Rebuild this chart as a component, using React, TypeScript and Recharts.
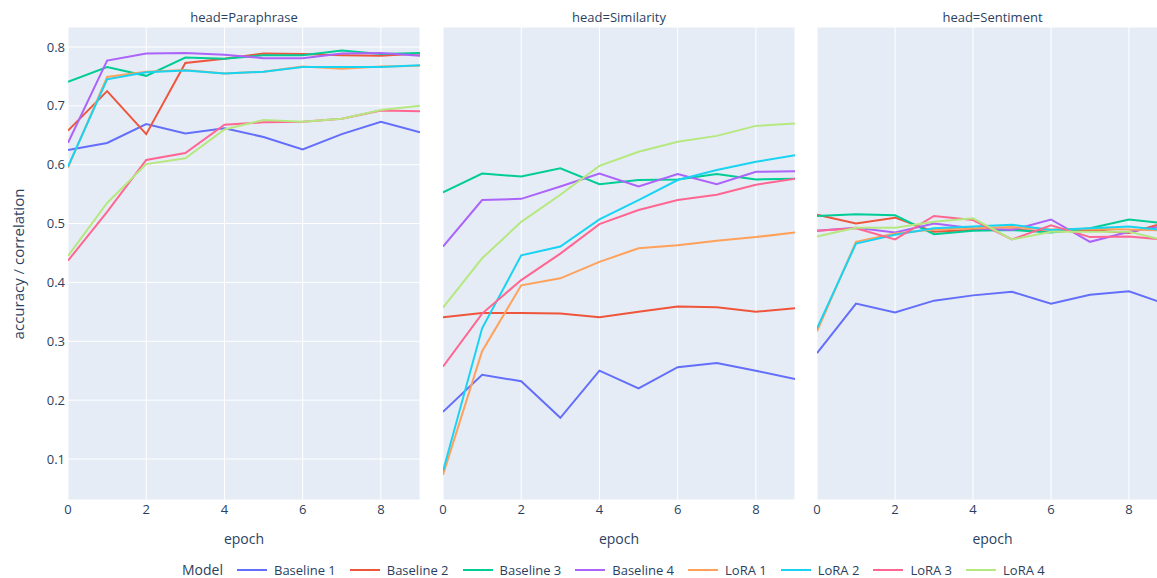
import React from "react";
import { LineChart, Line, XAxis, YAxis, CartesianGrid } from "recharts";

const epochs = [0, 1, 2, 3, 4, 5, 6, 7, 8, 9];
const models = ["Baseline 1", "Baseline 2", "Baseline 3", "Baseline 4", "LoRA 1", "LoRA 2", "LoRA 3", "LoRA 4"];
const colors = ["#636efa", "#EF553B", "#00cc96", "#ab63fa", "#FFA15A", "#19d3f3", "#FF6692", "#B6E880"];
const xTicks = [0, 2, 4, 6, 8];
const yTicks = [0.1, 0.2, 0.3, 0.4, 0.5, 0.6, 0.7, 0.8];

// head=Paraphrase
const paraBaseline1 = [0.625, 0.637, 0.669, 0.653, 0.662, 0.647, 0.626, 0.652, 0.673, 0.655];
const paraBaseline2 = [0.658, 0.725, 0.652, 0.773, 0.78, 0.789, 0.788, 0.786, 0.785, 0.789];
const paraBaseline3 = [0.741, 0.766, 0.751, 0.782, 0.78, 0.786, 0.786, 0.794, 0.788, 0.79];
const paraBaseline4 = [0.637, 0.777, 0.789, 0.79, 0.787, 0.781, 0.781, 0.789, 0.79, 0.785];
const paraLora1 = [0.595, 0.749, 0.758, 0.761, 0.755, 0.758, 0.767, 0.763, 0.767, 0.768];
const paraLora2 = [0.597, 0.745, 0.757, 0.76, 0.755, 0.758, 0.766, 0.766, 0.766, 0.769];
const paraLora3 = [0.437, 0.52, 0.608, 0.62, 0.668, 0.672, 0.673, 0.678, 0.692, 0.691];
const paraLora4 = [0.445, 0.535, 0.601, 0.611, 0.66, 0.676, 0.673, 0.678, 0.693, 0.7];

// head=Similarity
const simBaseline1 = [0.18, 0.243, 0.232, 0.17, 0.25, 0.22, 0.256, 0.263, 0.25, 0.236];
const simBaseline2 = [0.341, 0.348, 0.348, 0.347, 0.341, 0.35, 0.359, 0.358, 0.35, 0.356];
const simBaseline3 = [0.553, 0.585, 0.58, 0.594, 0.567, 0.574, 0.575, 0.584, 0.575, 0.576];
const simBaseline4 = [0.461, 0.54, 0.542, 0.563, 0.585, 0.563, 0.584, 0.567, 0.588, 0.589];
const simLora1 = [0.073, 0.283, 0.395, 0.407, 0.435, 0.458, 0.463, 0.471, 0.477, 0.485];
const simLora2 = [0.079, 0.322, 0.446, 0.461, 0.507, 0.54, 0.574, 0.591, 0.605, 0.616];
const simLora3 = [0.257, 0.347, 0.404, 0.449, 0.499, 0.523, 0.54, 0.549, 0.566, 0.576];
const simLora4 = [0.357, 0.441, 0.503, 0.549, 0.598, 0.622, 0.639, 0.649, 0.666, 0.67];

// head=Sentiment
const sentBaseline1 = [0.28, 0.364, 0.349, 0.369, 0.378, 0.384, 0.364, 0.379, 0.385, 0.362];
const sentBaseline2 = [0.515, 0.5, 0.51, 0.486, 0.489, 0.49, 0.486, 0.489, 0.484, 0.503];
const sentBaseline3 = [0.513, 0.516, 0.514, 0.482, 0.488, 0.489, 0.485, 0.492, 0.507, 0.5];
const sentBaseline4 = [0.488, 0.493, 0.485, 0.5, 0.492, 0.489, 0.507, 0.469, 0.486, 0.497];
const sentLora1 = [0.317, 0.469, 0.483, 0.49, 0.492, 0.494, 0.49, 0.491, 0.49, 0.488];
const sentLora2 = [0.322, 0.466, 0.481, 0.492, 0.495, 0.498, 0.489, 0.492, 0.495, 0.488];
const sentLora3 = [0.488, 0.492, 0.473, 0.513, 0.506, 0.473, 0.497, 0.477, 0.478, 0.472];
const sentLora4 = [0.478, 0.493, 0.493, 0.503, 0.509, 0.473, 0.486, 0.486, 0.486, 0.47];

const paraSeries = [paraBaseline1, paraBaseline2, paraBaseline3, paraBaseline4, paraLora1, paraLora2, paraLora3, paraLora4];
const simSeries = [simBaseline1, simBaseline2, simBaseline3, simBaseline4, simLora1, simLora2, simLora3, simLora4];
const sentSeries = [sentBaseline1, sentBaseline2, sentBaseline3, sentBaseline4, sentLora1, sentLora2, sentLora3, sentLora4];

const font = '"Open Sans", verdana, arial, sans-serif';
const textColor = "#2a3f5f";
const yDomain: [number, number] = [0.0303, 0.834];

const toRows = (series: number[][]) =>
  epochs.map((e, i) => {
    const row: Record<string, number> = { epoch: e };
    models.forEach((m, k) => {
      row[m] = series[k][i];
    });
    return row;
  });

type PanelProps = {
  title: string;
  series: number[][];
  left: number;
  width: number;
  showY: boolean;
};

const Panel = ({ title, series, left, width, showY }: PanelProps) => {
  const yw = showY ? 68 : 0;
  const pad = showY ? 0 : 10;
  const center = left + yw + (width - yw) / 2;
  return (
    <>
      <div
        style={{
          position: "absolute",
          left: center - 100,
          width: 200,
          top: 8,
          textAlign: "center",
          fontSize: 13,
          color: textColor,
          fontFamily: font,
        }}
      >
        {title}
      </div>
      <div style={{ position: "absolute", left: left - pad, top: 0 }}>
        <LineChart
          width={width + pad}
          height={578}
          data={toRows(series)}
          margin={{ top: 27, right: 0, bottom: 0, left: pad }}
        >
          <CartesianGrid stroke="#ffffff" strokeWidth={1} fill="#E5ECF6" />
          <XAxis
            dataKey="epoch"
            type="number"
            domain={[0, 9]}
            ticks={xTicks}
            interval={0}
            allowDataOverflow
            tickLine={false}
            axisLine={false}
            tickSize={0}
            tickMargin={5}
            height={78}
            tick={{ fill: textColor, fontSize: 13, fontFamily: font }}
            label={{ value: "epoch", position: "insideBottom", offset: 34, fill: textColor, fontSize: 14, fontFamily: font }}
          />
          <YAxis
            type="number"
            domain={yDomain}
            ticks={yTicks}
            interval={0}
            allowDataOverflow
            width={yw}
            tickLine={false}
            axisLine={false}
            tickSize={0}
            tickMargin={3}
            tickFormatter={(v: number) => v.toFixed(1)}
            tick={showY ? { fill: textColor, fontSize: 13, fontFamily: font } : false}
          />
          {models.map((m, k) => (
            <Line
              key={m}
              dataKey={m}
              type="linear"
              stroke={colors[k]}
              strokeWidth={2}
              dot={false}
              activeDot={false}
              isAnimationActive={false}
            />
          ))}
        </LineChart>
      </div>
    </>
  );
};

export default function App() {
  return (
    <div
      style={{
        position: "absolute",
        left: 0,
        top: 0,
        width: 1157,
        height: 578,
        overflow: "hidden",
        background: "#ffffff",
        fontFamily: font,
      }}
    >
      <Panel title="head=Paraphrase" series={paraSeries} left={0} width={420} showY />
      <Panel title="head=Similarity" series={simSeries} left={443} width={352} showY={false} />
      <Panel title="head=Sentiment" series={sentSeries} left={817} width={351} showY={false} />
      <div
        style={{
          position: "absolute",
          left: 18 - 150,
          top: 264 - 10,
          width: 300,
          height: 20,
          textAlign: "center",
          transform: "rotate(-90deg)",
          fontSize: 15,
          color: textColor,
          lineHeight: "20px",
        }}
      >
        accuracy / correlation
      </div>
      <div
        style={{
          position: "absolute",
          left: 182,
          top: 562,
          height: 16,
          lineHeight: "16px",
          display: "flex",
          alignItems: "center",
          fontSize: 13,
          color: textColor,
          whiteSpace: "nowrap",
        }}
      >
        <span style={{ fontSize: 14, marginRight: 14 }}>Model</span>
        {models.map((m, k) => (
          <span key={m} style={{ display: "flex", alignItems: "center", marginRight: 14 }}>
            <span style={{ display: "inline-block", width: 30, height: 2, background: colors[k] }} />
            <span style={{ marginLeft: 7 }}>{m}</span>
          </span>
        ))}
      </div>
    </div>
  );
}
